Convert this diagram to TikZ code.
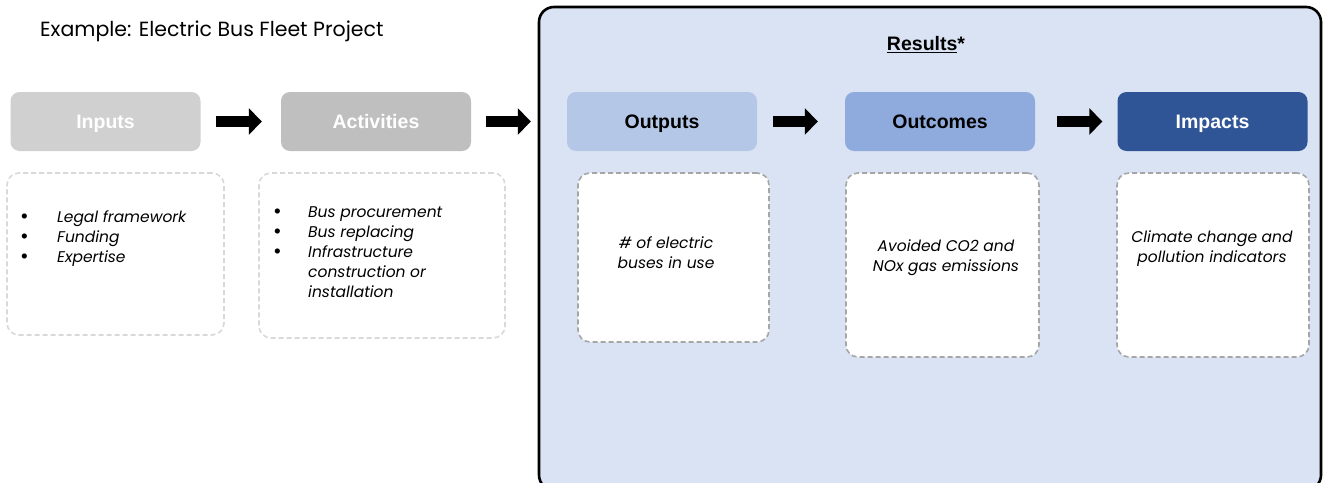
\documentclass[tikz,border=0pt]{standalone}
\usepackage{fontspec}
\setmainfont{Poppins}
\newfontfamily\headfont{Liberation Sans}
\usetikzlibrary{arrows.meta}
\definecolor{inpc}{HTML}{D0D0D0}
\definecolor{actc}{HTML}{BFBFBF}
\definecolor{outc}{HTML}{B4C7E7}
\definecolor{occ}{HTML}{8FAADC}
\definecolor{impc}{HTML}{2F5597}
\definecolor{resfill}{HTML}{DAE3F3}
\definecolor{lightdash}{HTML}{D9D9D9}
\definecolor{darkdash}{HTML}{A6A6A6}
\newcommand{\bigbul}{{\upshape\fontsize{21}{20}\selectfont\raisebox{-1.5pt}{•}}}
\tikzset{
  headbox/.style={rounded corners=9pt, minimum width=190pt, minimum height=59pt, inner sep=0pt,
    text height=16pt, text depth=3pt,
    font=\headfont\bfseries\fontsize{19.5}{22}\selectfont},
  dashbox/.style={rounded corners=12pt, line width=1.6pt, dash pattern=on 5pt off 3pt, fill=white, inner sep=0pt},
  blockarrow/.style={line width=11pt, -{Triangle[length=13pt,width=26pt]}},
  bodytext/.style={font=\fontsize{15.5}{20}\selectfont\itshape, inner sep=0pt},
}
\begin{document}
\begin{tikzpicture}[x=1pt,y=-1pt]
\useasboundingbox (0,0) rectangle (1324,482);
\clip (0,0) rectangle (1324,482);
% results frame
\draw[line width=2.6pt, fill=resfill, rounded corners=15pt] (539,7) rectangle (1321,490);
\node[font=\headfont\bfseries\fontsize{19.5}{22}\selectfont] (res) at (926,45) {\underline{Results}*};
% title
\node[anchor=base west, inner sep=0pt, font=\fontsize{20.5}{24}\selectfont] (title) at (40,36) {Example: Electric Bus Fleet Project};
% head boxes
\node[headbox, fill=inpc, text=white] (inputs) at (105.5,121.5) {Inputs};
\node[headbox, fill=actc, text=white] (activities) at (376,121.5) {Activities};
\node[headbox, fill=outc, text=black] (outputs) at (662,121.5) {Outputs};
\node[headbox, fill=occ, text=black] (outcomes) at (940,121.5) {Outcomes};
\node[headbox, fill=impc, text=white] (impacts) at (1212.5,121.5) {Impacts};
% arrows
\draw[blockarrow] ([xshift=15pt]inputs.east) -- ([xshift=-19pt]activities.west);
\draw[blockarrow] ([xshift=15pt]activities.east) -- ([xshift=-36pt]outputs.west);
\draw[blockarrow] ([xshift=16pt]outputs.east) -- ([xshift=-27pt]outcomes.west);
\draw[blockarrow] ([xshift=22pt]outcomes.east) -- ([xshift=-15pt]impacts.west);
% dashed boxes
\node[dashbox, draw=lightdash, minimum width=217pt, minimum height=162pt] (d1) at (115.5,254) {};
\node[dashbox, draw=lightdash, minimum width=246pt, minimum height=165pt] (d2) at (382,255.5) {};
\node[dashbox, draw=darkdash, minimum width=191pt, minimum height=169pt] (d3) at (673.5,257.5) {};
\node[dashbox, draw=darkdash, minimum width=193pt, minimum height=184pt] (d4) at (942.5,265) {};
\node[dashbox, draw=darkdash, minimum width=192pt, minimum height=184pt] (d5) at (1213,265) {};
% texts
\node[bodytext, anchor=base west] (t1) at (20,222) {\begin{tabular}[t]{@{}p{37pt}@{}l@{}}
\bigbul&Legal framework\\
\bigbul&Funding\\
\bigbul&Expertise
\end{tabular}};
\node[bodytext, anchor=base west] (t2) at (273,217) {\begin{tabular}[t]{@{}p{35pt}@{}l@{}}
\bigbul&Bus procurement\\
\bigbul&Bus replacing\\
\bigbul&Infrastructure\\
&construction or\\
&installation
\end{tabular}};
\node[bodytext, align=center] (t3) at (666,253) {\# of electric\\buses in use};
\node[bodytext, align=center] (t4) at (946,258) {Avoided CO2 and\\NOx gas emissions};
\node[bodytext, align=center] (t5) at (1212,249) {Climate change and\\pollution indicators};
\end{tikzpicture}
\end{document}
